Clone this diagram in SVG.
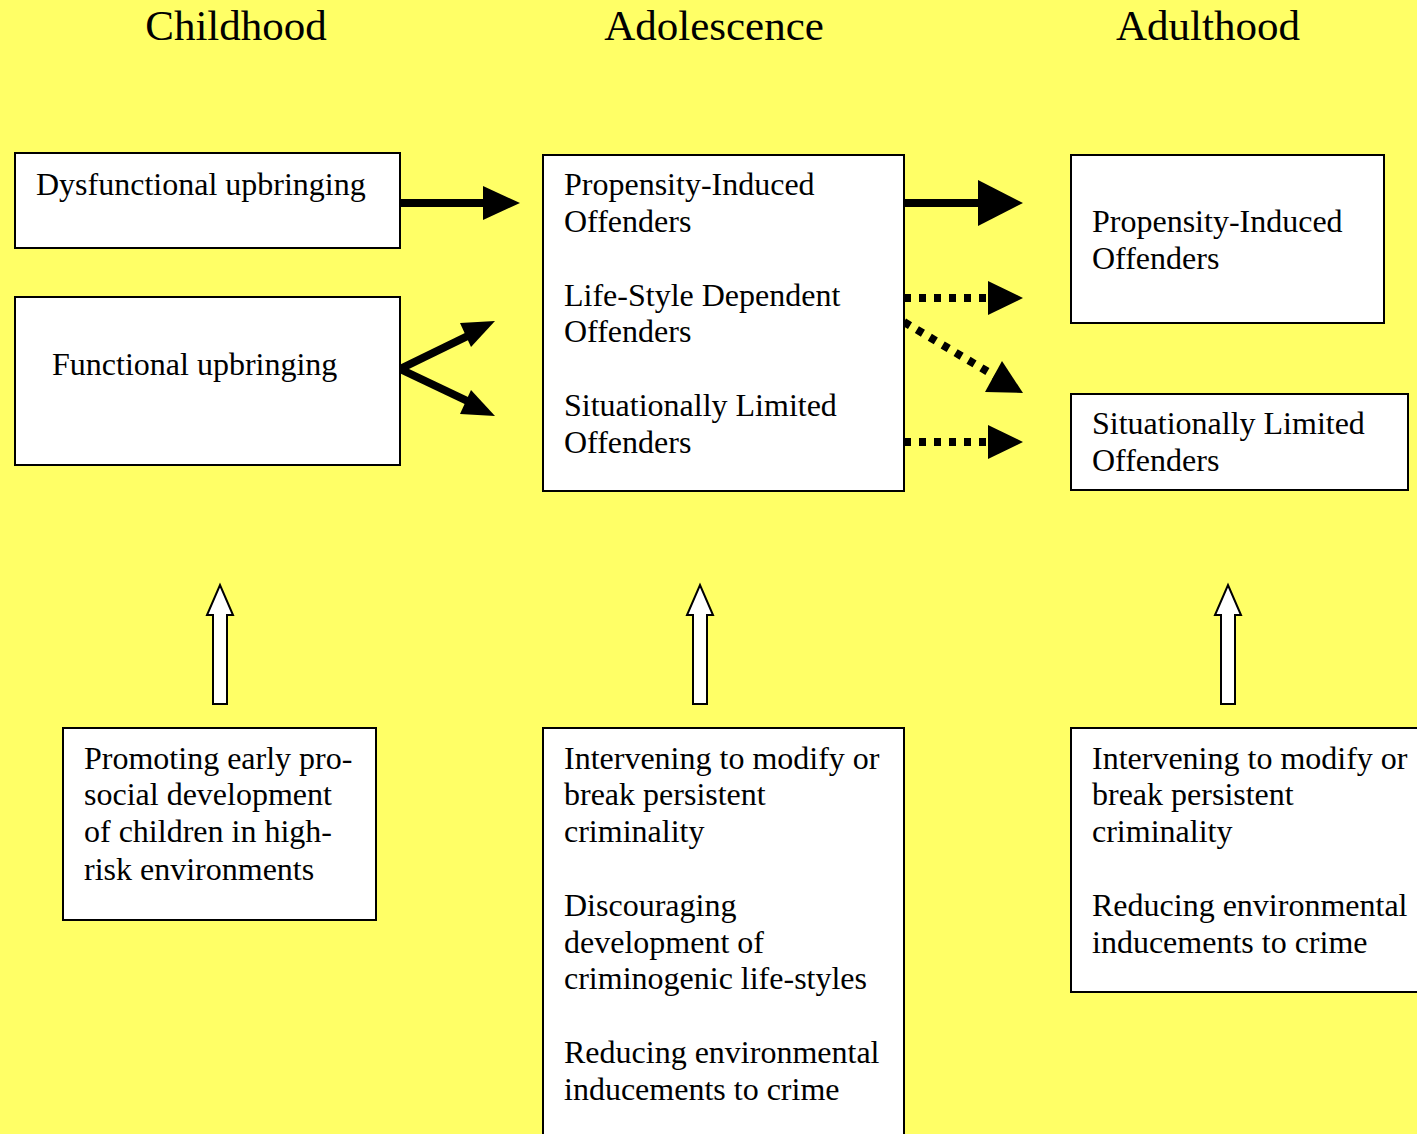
<svg xmlns="http://www.w3.org/2000/svg" width="1417" height="1134" viewBox="0 0 1417 1134">
<style>
.bg{fill:#FFFF66}
.box{fill:#fff;stroke:#000;stroke-width:2}
.t{font-family:"Liberation Serif","Times New Roman",serif;font-size:32px;fill:#000}
.h{font-family:"Liberation Serif","Times New Roman",serif;font-size:43px;fill:#000;text-anchor:middle}
.solid{stroke:#000;stroke-width:8;fill:none}
.dot{stroke:#000;stroke-width:8;fill:none;stroke-dasharray:7 8}
.hollow{fill:#fff;stroke:#000;stroke-width:2}
</style>
<rect class="bg" x="0" y="0" width="1417" height="1134"/>
<g id="headings">
<text class="h" x="236" y="40">Childhood</text>
<text class="h" x="714" y="40">Adolescence</text>
<text class="h" x="1208" y="40">Adulthood</text>
</g>
<g id="connectors">
<line class="solid" x1="400" y1="203" x2="500" y2="203"/>
<path d="M483,186 L520,203 L483,220 Z" fill="#000"/>
<line class="solid" x1="400" y1="369" x2="480" y2="330"/>
<path d="M471,347 L495,321 L460,323 Z" fill="#000"/>
<line class="solid" x1="400" y1="369" x2="480" y2="407"/>
<path d="M460,414 L495,416 L471,390 Z" fill="#000"/>
<line class="solid" x1="904" y1="203" x2="990" y2="203"/>
<path d="M978,180 L1023,203 L978,226 Z" fill="#000"/>
<line class="dot" x1="904" y1="298" x2="993" y2="298"/>
<path d="M988,281 L1023,298 L988,315 Z" fill="#000"/>
<line class="dot" x1="904" y1="322" x2="995" y2="376"/>
<path d="M985,392 L1002,361 L1023,393 Z" fill="#000"/>
<line class="dot" x1="904" y1="442" x2="993" y2="442"/>
<path d="M988,425 L1023,442 L988,459 Z" fill="#000"/>
<path class="hollow" d="M213,704 L213,615 L207,615 L220,585 L233,615 L227,615 L227,704 Z"/>
<path class="hollow" d="M693,704 L693,615 L687,615 L700,585 L713,615 L707,615 L707,704 Z"/>
<path class="hollow" d="M1221,704 L1221,615 L1215,615 L1228,585 L1241,615 L1235,615 L1235,704 Z"/>
</g>
<g id="dysfunctional">
<rect class="box" x="15" y="153" width="385" height="95"/>
<text class="t" x="36" y="195">Dysfunctional upbringing</text>
</g>
<g id="functional">
<rect class="box" x="15" y="297" width="385" height="168"/>
<text class="t" x="52" y="375">Functional upbringing</text>
</g>
<g id="adolescent-offenders">
<rect class="box" x="543" y="155" width="361" height="336"/>
<text class="t" x="564" y="195">Propensity-Induced</text>
<text class="t" x="564" y="232">Offenders</text>
<text class="t" x="564" y="306">Life-Style Dependent</text>
<text class="t" x="564" y="342">Offenders</text>
<text class="t" x="564" y="416">Situationally Limited</text>
<text class="t" x="564" y="453">Offenders</text>
</g>
<g id="adult-propensity">
<rect class="box" x="1071" y="155" width="313" height="168"/>
<text class="t" x="1092" y="232">Propensity-Induced</text>
<text class="t" x="1092" y="269">Offenders</text>
</g>
<g id="adult-situational">
<rect class="box" x="1071" y="394" width="337" height="96"/>
<text class="t" x="1092" y="434">Situationally Limited</text>
<text class="t" x="1092" y="471">Offenders</text>
</g>
<g id="childhood-intervention">
<rect class="box" x="63" y="728" width="313" height="192"/>
<text class="t" x="84" y="769">Promoting early pro-</text>
<text class="t" x="84" y="805">social development</text>
<text class="t" x="84" y="842">of children in high-</text>
<text class="t" x="84" y="880">risk environments</text>
</g>
<g id="adolescence-intervention">
<rect class="box" x="543" y="728" width="361" height="420"/>
<text class="t" x="564" y="769">Intervening to modify or</text>
<text class="t" x="564" y="805">break persistent</text>
<text class="t" x="564" y="842">criminality</text>
<text class="t" x="564" y="916">Discouraging</text>
<text class="t" x="564" y="953">development of</text>
<text class="t" x="564" y="989">criminogenic life-styles</text>
<text class="t" x="564" y="1063">Reducing environmental</text>
<text class="t" x="564" y="1100">inducements to crime</text>
</g>
<g id="adulthood-intervention">
<rect class="box" x="1071" y="728" width="360" height="264"/>
<text class="t" x="1092" y="769">Intervening to modify or</text>
<text class="t" x="1092" y="805">break persistent</text>
<text class="t" x="1092" y="842">criminality</text>
<text class="t" x="1092" y="916">Reducing environmental</text>
<text class="t" x="1092" y="953">inducements to crime</text>
</g>
</svg>
